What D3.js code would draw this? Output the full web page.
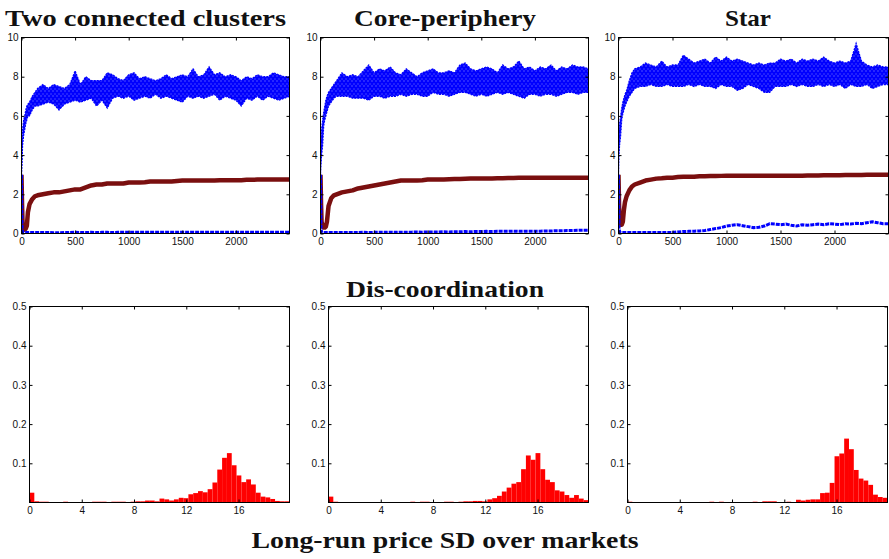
<!DOCTYPE html>
<html>
<head>
<meta charset="utf-8">
<script src="https://cdn.jsdelivr.net/npm/d3@7"></script>
<style>
  body { margin: 0; background: #fff; }
  .tick text { font-family: "Liberation Sans", Arial, sans-serif; font-size: 10px; fill: #111; }
  .title { font-family: "Liberation Serif", "DejaVu Serif", serif; font-weight: 700; font-size: 24px; fill: #111; }
</style>
</head>
<body>
<svg id="fig" width="889" height="559"></svg>
<script>
// time points (shared by every top panel)
const T = [0, 5, 10, 20, 30, 40, 50, 60, 75, 100, 125, 150,
  200, 250, 300, 350, 400, 450, 500, 550, 600, 650, 700, 750, 800, 850, 900, 950,
  1000, 1050, 1100, 1150, 1200, 1250, 1300, 1350, 1400, 1450, 1500, 1550, 1600, 1650,
  1700, 1750, 1800, 1850, 1900, 1950, 2000, 2050, 2100, 2150, 2200, 2250, 2300, 2350,
  2400, 2450, 2500];

// Two connected clusters
const clustersHighLow = [3.0, 3.5, 4.5, 5.0, 5.3, 5.6, 5.8, 6.0, 6.0, 6.3, 6.5, 6.5,
  6.6, 6.7, 6.6, 6.3, 6.6, 6.7, 6.8, 6.7, 6.8, 6.9, 6.5, 6.8, 6.4, 6.9, 7.0, 6.9,
  7.0, 6.8, 6.9, 7.0, 6.9, 7.1, 6.9, 7.0, 6.9, 6.8, 6.7, 7.0, 6.9, 7.0,
  6.9, 7.0, 7.1, 6.8, 7.0, 6.9, 6.8, 6.5, 6.9, 6.8, 7.0, 6.8, 7.0, 6.9,
  6.8, 6.9, 7.0];
const clustersHighUp = [4.5, 4.5, 5.3, 5.8, 6.0, 6.3, 6.5, 6.6, 6.7, 7.0, 7.2, 7.4,
  7.6, 7.4, 7.6, 7.5, 7.4, 7.6, 8.3, 7.6, 8.0, 7.8, 7.8, 7.8, 8.2, 8.1, 7.9, 7.8,
  8.1, 8.2, 7.9, 8.0, 7.9, 7.8, 7.9, 8.1, 7.9, 8.0, 8.1, 8.0, 8.4, 8.0,
  8.1, 8.5, 8.1, 8.2, 8.0, 8.1, 8.0, 7.8, 8.0, 7.9, 8.1, 8.0, 8.0, 8.2,
  8.1, 8.0, 8.0];
const clustersMid = [3.0, 1.5, 0.5, 0.25, 0.2, 0.25, 0.4, 1.1, 1.5, 1.75, 1.9, 1.95,
  2.0, 2.05, 2.1, 2.1, 2.15, 2.2, 2.25, 2.25, 2.35, 2.45, 2.5, 2.5, 2.55, 2.55, 2.55, 2.55,
  2.6, 2.6, 2.6, 2.62, 2.65, 2.65, 2.65, 2.65, 2.65, 2.68, 2.7, 2.7, 2.7, 2.7,
  2.7, 2.7, 2.7, 2.72, 2.72, 2.72, 2.72, 2.72, 2.74, 2.74, 2.75, 2.75, 2.75, 2.75,
  2.75, 2.75, 2.75];
const clustersLow = [3.0, 0.3, 0.08, 0.05, 0.05, 0.05, 0.05, 0.05, 0.05, 0.05, 0.05, 0.05,
  0.05, 0.05, 0.04, 0.04, 0.05, 0.05, 0.06, 0.05, 0.05, 0.06, 0.05, 0.06, 0.06, 0.05, 0.06, 0.06,
  0.06, 0.06, 0.06, 0.06, 0.06, 0.06, 0.06, 0.07, 0.06, 0.06, 0.07, 0.06, 0.07, 0.06,
  0.06, 0.07, 0.06, 0.07, 0.06, 0.06, 0.07, 0.06, 0.07, 0.06, 0.07, 0.06, 0.07, 0.07,
  0.06, 0.07, 0.07];

// Core-periphery
const coreHighLow = [3.0, 3.5, 4.0, 4.5, 5.5, 5.8, 6.0, 6.2, 6.5, 6.7, 6.9, 7.0,
  7.0, 7.0, 6.9, 6.9, 6.9, 6.8, 7.0, 7.0, 6.9, 7.0, 7.0, 7.1, 7.0, 7.1, 7.1, 7.0,
  7.0, 7.2, 7.1, 7.1, 7.0, 7.1, 7.2, 7.2, 7.1, 7.0, 7.1, 7.0, 7.1, 7.2,
  7.1, 7.2, 7.1, 7.0, 6.9, 7.1, 7.1, 7.0, 7.1, 7.1, 7.0, 7.1, 7.2, 7.2,
  7.1, 7.2, 7.2];
const coreHighUp = [4.6, 4.8, 5.3, 5.8, 6.2, 6.5, 6.8, 7.0, 7.2, 7.4, 7.6, 7.8,
  8.2, 8.0, 8.1, 8.0, 8.3, 8.6, 8.2, 8.4, 8.3, 8.5, 8.2, 8.1, 8.4, 8.2, 8.0, 8.2,
  8.3, 8.4, 8.2, 8.2, 8.3, 8.2, 8.6, 8.7, 8.4, 8.3, 8.4, 8.5, 8.4, 8.2,
  8.6, 8.4, 8.5, 8.8, 8.4, 8.5, 8.3, 8.5, 8.4, 8.6, 8.3, 8.5, 8.4, 8.6,
  8.5, 8.5, 8.4];
const coreMid = [3.0, 1.5, 0.6, 0.35, 0.3, 0.3, 0.35, 0.6, 1.4, 1.8, 1.95, 2.0,
  2.1, 2.15, 2.2, 2.3, 2.35, 2.4, 2.45, 2.5, 2.55, 2.6, 2.65, 2.7, 2.7, 2.7, 2.7, 2.72,
  2.75, 2.75, 2.76, 2.76, 2.77, 2.78, 2.78, 2.79, 2.8, 2.8, 2.8, 2.8, 2.81, 2.82,
  2.82, 2.83, 2.83, 2.84, 2.84, 2.85, 2.85, 2.85, 2.85, 2.85, 2.85, 2.85, 2.85, 2.85,
  2.85, 2.85, 2.85];
const coreLow = [3.0, 0.3, 0.05, 0.05, 0.05, 0.05, 0.05, 0.05, 0.05, 0.05, 0.05, 0.05,
  0.05, 0.05, 0.05, 0.05, 0.06, 0.05, 0.06, 0.06, 0.06, 0.07, 0.06, 0.07, 0.07, 0.07, 0.08, 0.07,
  0.08, 0.08, 0.08, 0.09, 0.08, 0.09, 0.09, 0.1, 0.09, 0.1, 0.1, 0.11, 0.1, 0.11,
  0.11, 0.11, 0.12, 0.11, 0.12, 0.12, 0.12, 0.12, 0.13, 0.13, 0.14, 0.14, 0.15, 0.15,
  0.16, 0.17, 0.17];

// Star
const starHighLow = [3.0, 4.0, 4.5, 5.0, 5.8, 6.1, 6.3, 6.5, 6.7, 7.0, 7.2, 7.4,
  7.5, 7.5, 7.6, 7.5, 7.5, 7.6, 7.5, 7.5, 7.5, 7.6, 7.5, 7.6, 7.5, 7.5, 7.4, 7.6,
  7.5, 7.5, 7.3, 7.4, 7.6, 7.5, 7.4, 7.2, 7.2, 7.5, 7.5, 7.5, 7.6, 7.5,
  7.6, 7.5, 7.5, 7.6, 7.5, 7.6, 7.5, 7.6, 7.4, 7.6, 7.5, 7.5, 7.6, 7.4,
  7.5, 7.6, 7.6];
const starHighUp = [5.0, 5.3, 5.6, 6.0, 6.4, 6.7, 6.9, 7.1, 7.3, 7.8, 8.2, 8.4,
  8.5, 8.7, 8.6, 8.5, 8.8, 8.5, 8.6, 8.6, 9.1, 8.9, 8.7, 8.8, 8.9, 8.7, 9.0, 8.8,
  9.0, 8.8, 8.9, 8.8, 8.7, 8.6, 8.7, 8.6, 8.7, 8.7, 8.9, 8.8, 8.9, 8.7,
  8.9, 8.8, 8.9, 8.8, 9.0, 8.8, 8.7, 8.8, 8.7, 8.8, 9.7, 8.8, 8.6, 8.5,
  8.6, 8.5, 8.5];
const starMid = [3.0, 1.5, 0.6, 0.45, 0.45, 0.6, 1.2, 1.6, 1.9, 2.2, 2.4, 2.5,
  2.6, 2.7, 2.75, 2.8, 2.82, 2.85, 2.85, 2.88, 2.9, 2.9, 2.9, 2.92, 2.92, 2.93, 2.93, 2.94,
  2.95, 2.95, 2.95, 2.95, 2.95, 2.95, 2.95, 2.95, 2.95, 2.95, 2.95, 2.95, 2.95, 2.95,
  2.95, 2.96, 2.96, 2.96, 2.97, 2.97, 2.97, 2.97, 2.98, 2.98, 2.98, 2.98, 3.0, 3.0,
  3.0, 3.0, 3.0];
const starLow = [3.0, 0.3, 0.1, 0.05, 0.05, 0.05, 0.05, 0.05, 0.05, 0.05, 0.05, 0.05,
  0.05, 0.05, 0.05, 0.05, 0.05, 0.05, 0.05, 0.08, 0.1, 0.11, 0.12, 0.13, 0.15, 0.2, 0.25, 0.3,
  0.38, 0.42, 0.45, 0.4, 0.35, 0.3, 0.32, 0.38, 0.5, 0.48, 0.45, 0.48, 0.42, 0.38,
  0.45, 0.42, 0.45, 0.48, 0.45, 0.5, 0.48, 0.45, 0.5, 0.48, 0.52, 0.5, 0.55, 0.6,
  0.55, 0.5, 0.5];

// long-run price SD histograms (share of runs per bin)
const sdMax = 19.9;
const binCount = 54;
const clustersHist = [0.025, 0.003, 0.002, 0.002, 0, 0, 0, 0.002, 0, 0, 0, 0, 0, 0.002, 0.002, 0.002, 0, 0.002,
  0.002, 0.002, 0, 0.002, 0.003, 0.003, 0.005, 0.005, 0.003, 0.010, 0.008, 0.005, 0.008, 0.012, 0.011, 0.021,
  0.024, 0.029, 0.026, 0.034, 0.051, 0.084, 0.114, 0.126, 0.095, 0.069, 0.052, 0.059, 0.046, 0.025, 0.015,
  0.013, 0.009, 0.004, 0.003, 0.003];
const coreHist = [0.015, 0.002, 0, 0, 0, 0, 0.001, 0, 0, 0, 0, 0, 0, 0.001, 0, 0, 0, 0.002,
  0, 0.002, 0.002, 0.001, 0, 0.001, 0.002, 0.002, 0.001, 0.002, 0.003, 0.003, 0.004, 0.004, 0.003, 0.008,
  0.011, 0.017, 0.028, 0.038, 0.048, 0.052, 0.085, 0.120, 0.109, 0.126, 0.085, 0.058, 0.052, 0.031, 0.028,
  0.019, 0.012, 0.019, 0.010, 0.006];
const starHist = [0.002, 0, 0, 0, 0, 0, 0, 0, 0, 0, 0, 0, 0, 0, 0, 0, 0, 0.002,
  0, 0.002, 0, 0, 0, 0, 0, 0, 0.002, 0, 0.003, 0.003, 0.003, 0, 0, 0.002,
  0, 0.007, 0.005, 0.007, 0.008, 0.008, 0.024, 0.025, 0.050, 0.118, 0.125, 0.163, 0.136, 0.083, 0.061,
  0.056, 0.045, 0.020, 0.014, 0.012];

const timeTicks = [0, 500, 1000, 1500, 2000];
const levelTicks = [0, 2, 4, 6, 8, 10];
const sdTicks = [0, 4, 8, 12, 16];
const shareTicks = [0.1, 0.2, 0.3, 0.4, 0.5];

const titles = ["Two connected clusters", "Core-periphery", "Star"];

const svg = d3.select("#fig");

// speckled blue fill, like the dense dotted lines of the original
const defs = svg.append("defs");
const pat = defs.append("pattern").attr("id", "speckle")
  .attr("width", 4).attr("height", 5).attr("patternUnits", "userSpaceOnUse");
pat.append("rect").attr("width", 4).attr("height", 5).attr("fill", "#0000ff");
pat.append("rect").attr("x", 1).attr("y", 1).attr("width", 1).attr("height", 1).attr("fill", "#7d7dff");
pat.append("rect").attr("x", 3).attr("y", 3).attr("width", 1).attr("height", 1).attr("fill", "#9a9aff");

function frame(g, x, y, xTicks, yTicks, yFormat, w, h) {
  const tick = 3;
  g.append("g").attr("transform", `translate(0,${h})`)
    .call(d3.axisBottom(x).tickValues(xTicks).tickSize(-tick).tickPadding(4).tickFormat(d3.format("d")))
    .call(a => a.select(".domain").remove());
  g.append("g")
    .call(d3.axisTop(x).tickValues(xTicks).tickSize(-tick).tickFormat(""))
    .call(a => a.select(".domain").remove());
  g.append("g")
    .call(d3.axisLeft(y).tickValues(yTicks).tickSize(-tick).tickPadding(3).tickFormat(yFormat))
    .call(a => a.select(".domain").remove());
  g.append("g").attr("transform", `translate(${w},0)`)
    .call(d3.axisRight(y).tickValues(yTicks).tickSize(-tick).tickFormat(""))
    .call(a => a.select(".domain").remove());
  g.selectAll(".tick line").attr("stroke", "#000");
  g.append("rect")
    .attr("width", w).attr("height", h)
    .attr("fill", "none").attr("stroke", "#000").attr("stroke-width", 1);
}

// ---- top row: price level over time ----
const topPanels = [
  { left: 21, right: 289, up: clustersHighUp, lo: clustersHighLow, mid: clustersMid, low: clustersLow },
  { left: 320, right: 588, up: coreHighUp, lo: coreHighLow, mid: coreMid, low: coreLow },
  { left: 618, right: 888, up: starHighUp, lo: starHighLow, mid: starMid, low: starLow }
];
const topY0 = 37, topY1 = 233;

topPanels.forEach((p, i) => {
  const w = p.right - p.left, h = topY1 - topY0;
  const g = svg.append("g").attr("transform", `translate(${p.left + 0.5},${topY0 + 0.5})`);
  const x = d3.scaleLinear().domain([0, 2500]).range([0, w]);
  const y = d3.scaleLinear().domain([0, 10]).range([h, 0]);

  g.append("clipPath").attr("id", "clipTop" + i)
    .append("rect").attr("width", w).attr("height", h);
  const plot = g.append("g").attr("clip-path", `url(#clipTop${i})`);

  const band = d3.area()
    .x((d, k) => x(T[k]))
    .y0((d, k) => y(p.lo[k]))
    .y1((d, k) => y(p.up[k]));
  plot.append("path").datum(T)
    .attr("d", band)
    .attr("fill", "url(#speckle)")
    .attr("stroke", "#0000ff")
    .attr("stroke-width", 1.2)
    .attr("stroke-dasharray", "2,1");

  const line = vals => d3.line().x((d, k) => x(T[k])).y((d, k) => y(vals[k]))(T);
  plot.append("path")
    .attr("d", line(p.mid))
    .attr("fill", "none").attr("stroke", "#7a0f0f")
    .attr("stroke-width", 4.5).attr("stroke-linejoin", "round");
  plot.append("path")
    .attr("d", line(p.low))
    .attr("fill", "none").attr("stroke", "#0000ff")
    .attr("stroke-width", 3).attr("stroke-dasharray", "4,1");

  frame(g, x, y, timeTicks, levelTicks, d3.format("d"), w, h);
});

// ---- bottom row: histograms ----
const bottomPanels = [
  { left: 29, right: 289, hist: clustersHist },
  { left: 328, right: 588, hist: coreHist },
  { left: 627, right: 887, hist: starHist }
];
const botY0 = 306, botY1 = 502;

bottomPanels.forEach(p => {
  const w = p.right - p.left, h = botY1 - botY0;
  const g = svg.append("g").attr("transform", `translate(${p.left + 0.5},${botY0 + 0.5})`);
  const x = d3.scaleLinear().domain([0, sdMax]).range([0, w]);
  const y = d3.scaleLinear().domain([0, 0.5]).range([h, 0]);
  const binW = sdMax / binCount;

  g.selectAll(".bar")
    .data(p.hist.map((v, k) => ({ k, v })).filter(d => d.v > 0))
    .enter().append("rect")
    .attr("class", "bar")
    .attr("x", d => x(d.k * binW))
    .attr("width", d => x((d.k + 1) * binW) - x(d.k * binW))
    .attr("y", d => y(d.v))
    .attr("height", d => h - y(d.v))
    .attr("fill", "#ff0000");

  frame(g, x, y, sdTicks, shareTicks, d3.format(".1f"), w, h);
});

// ---- titles ----
const titleSpots = [
  { cx: 145.5, width: 281 },
  { cx: 445, width: 182 },
  { cx: 748, width: 46 }
];
titles.forEach((t, i) => {
  svg.append("text").attr("class", "title")
    .attr("x", titleSpots[i].cx).attr("y", 26)
    .attr("text-anchor", "middle")
    .attr("textLength", titleSpots[i].width)
    .attr("lengthAdjust", "spacingAndGlyphs")
    .text(t);
});
svg.append("text").attr("class", "title")
  .attr("x", 445).attr("y", 297).attr("text-anchor", "middle")
  .attr("textLength", 198).attr("lengthAdjust", "spacingAndGlyphs")
  .text("Dis-coordination");
svg.append("text").attr("class", "title")
  .attr("x", 445).attr("y", 548).attr("text-anchor", "middle")
  .attr("textLength", 387).attr("lengthAdjust", "spacingAndGlyphs")
  .text("Long-run price SD over markets");
</script>
</body>
</html>
